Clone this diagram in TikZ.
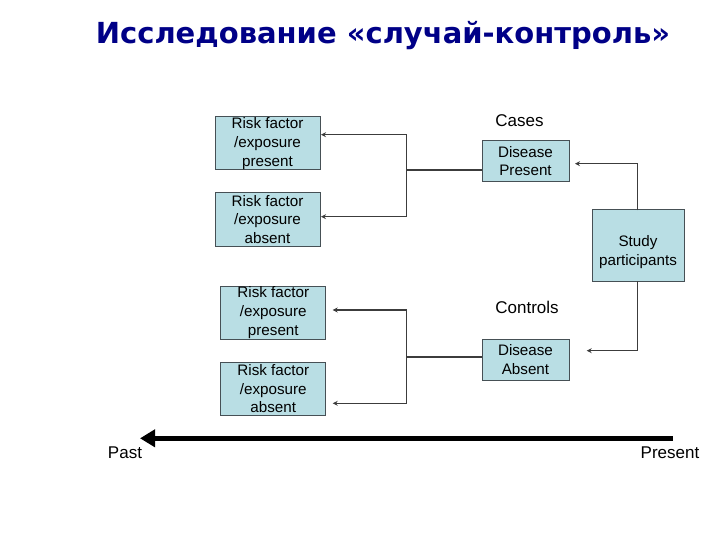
\documentclass[tikz,border=0pt]{standalone}
\usepackage{fontspec}
\setmainfont{Liberation Sans}
\newfontfamily\titlefont{DejaVu Sans}
\usetikzlibrary{arrows.meta}
\definecolor{boxfill}{RGB}{185,222,228}
\definecolor{boxline}{RGB}{70,80,85}
\definecolor{conline}{RGB}{60,60,60}
\definecolor{titleblue}{RGB}{0,0,135}
\begin{document}
\begin{tikzpicture}[x=1pt,y=-1pt,
  rbox/.style={draw=boxline,line width=1pt,fill=boxfill,inner sep=0pt,
    align=center,font=\fontsize{15.2}{18.7}\selectfont},
  conn/.style={draw=conline,line width=1.2pt},
  carr/.style={conn,-{Stealth[length=5pt,width=5pt]}},
  lbl/.style={inner sep=0pt,font=\fontsize{17}{20}\selectfont}]
\useasboundingbox (0,0) rectangle (720,540);
\node[inner sep=0pt,text=titleblue,font=\titlefont\bfseries\fontsize{29}{33}\selectfont] (title) at (383,36) {Исследование «случай-контроль»};
% boxes
\node[rbox,minimum width=105pt,minimum height=53pt] (rf1) at (267.5,143.5) {Risk factor\\/exposure\\present};
\node[rbox,minimum width=105pt,minimum height=53pt] (rf2) at (267.5,219.5) {Risk factor\\/exposure\\absent};
\node[rbox,minimum width=105pt,minimum height=53pt] (rf3) at (273.3,312.7) {Risk factor\\/exposure\\present};
\node[rbox,minimum width=105pt,minimum height=53pt] (rf4) at (273.3,388.8) {Risk factor\\/exposure\\absent};
\node[rbox,minimum width=87pt,minimum height=40.5pt] (dp) at (525.5,161) {Disease\\Present};
\node[rbox,minimum width=87pt,minimum height=41pt] (da) at (525.5,359.8) {Disease\\Absent};
\node[rbox,minimum width=92pt,minimum height=71pt,text depth=0pt] (sp) at (638,245.5) {\raisebox{-1pt}{\parbox{90pt}{\centering Study\\participants}}};
% labels
\node[lbl] (cases) at (519.5,120.5) {Cases};
\node[lbl] (controls) at (527,307) {Controls};
\node[lbl] (past) at (125,453) {Past};
\node[lbl] (present) at (670,453) {Present};
% junction coordinates
\coordinate (j1) at (406.7,170);
\coordinate (j1t) at (406.7,134.7);
\coordinate (j1b) at (406.7,216.7);
\coordinate (j2) at (406.7,357);
\coordinate (j2t) at (406.7,310);
\coordinate (j2b) at (406.7,403.3);
\coordinate (a1) at (321,134.7);
\coordinate (a2) at (321,216.7);
\coordinate (a3) at (332.7,310);
\coordinate (a4) at (332.7,403.3);
\coordinate (sptop) at (637.7,210.5);
\coordinate (spbot) at (637.7,281);
\coordinate (ud) at (637.7,163.7);
\coordinate (dd) at (637.7,350.7);
\coordinate (udt) at (575,163.7);
\coordinate (ddt) at (586.7,350.7);
% connectors
\draw[conn] (dp.west |- j1) -- (j1);
\draw[conn] (j1t) -- (j1b);
\draw[carr] (j1t) -- (a1);
\draw[carr] (j1b) -- (a2);
\draw[conn] (da.west |- j2) -- (j2);
\draw[conn] (j2t) -- (j2b);
\draw[carr] (j2t) -- (a3);
\draw[carr] (j2b) -- (a4);
\draw[carr] (sptop) -- (ud) -- (udt);
\draw[carr] (spbot) -- (dd) -- (ddt);
% time arrow
\coordinate (tr) at (673,438.3);
\coordinate (tl) at (140,438.3);
\draw[line width=5pt,-{Triangle[length=15pt,width=17pt]}] (tr) -- (tl);
\end{tikzpicture}
\end{document}
